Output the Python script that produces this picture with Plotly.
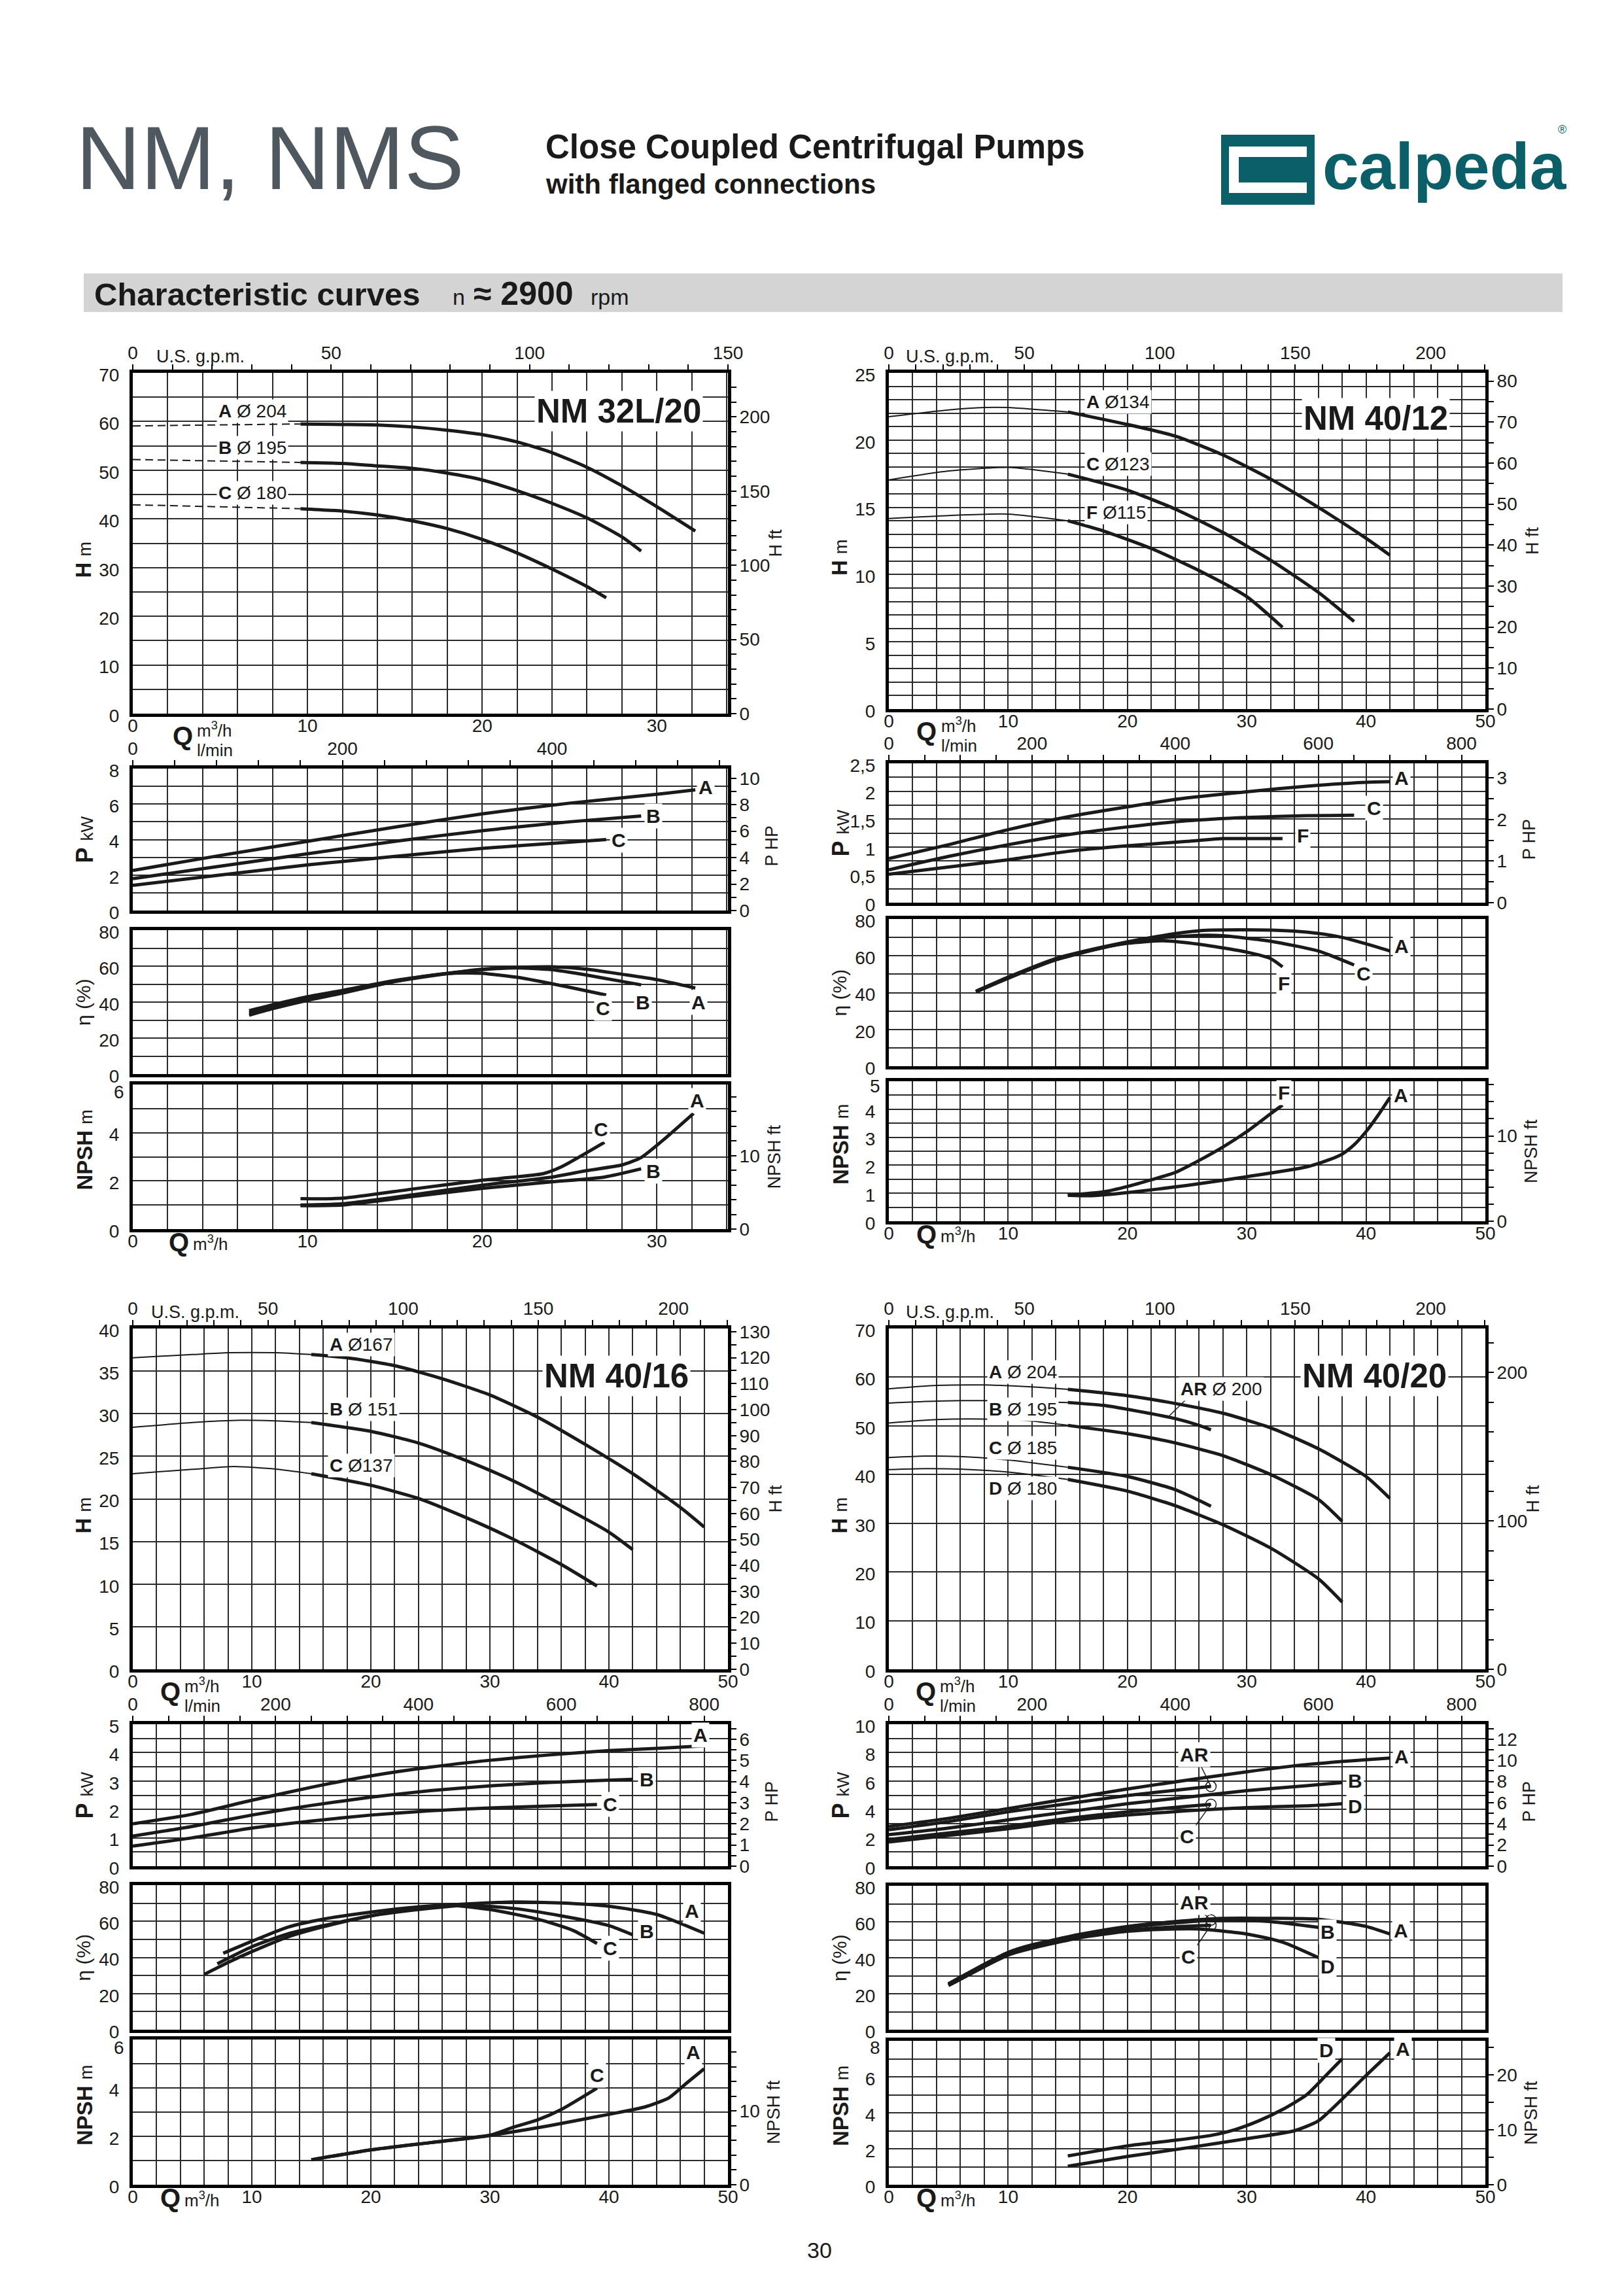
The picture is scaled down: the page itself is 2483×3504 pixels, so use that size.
import numpy as np
import plotly.graph_objects as go

W, H = 2483, 3504
FONT = "Liberation Sans, Arial, Helvetica, sans-serif"
INK = "#1a1a1a"
GRID = "#2b2b2b"
TEAL = "#0b5f68"

GPM = 4.40287          # US gpm per m3/h
LMIN = 1000.0 / 60.0   # l/min per m3/h
FT = 1 / 0.3048
HP = 1 / 0.7457

# ---------------- NM 32L/20 ----------------
n1_h_q = {"A": [0, 9.6, 12, 14, 16, 18, 20, 22, 24, 26, 28, 30, 32.2],
          "B": [0, 9.6, 12, 14, 16, 18, 20, 22, 24, 26, 28, 29.1],
          "C": [0, 9.6, 12, 14, 16, 18, 20, 22, 24, 26, 27.1]}
n1_h = {"A": [59.1, 59.5, 59.4, 59.3, 58.9, 58.2, 57.3, 55.8, 53.6, 50.6, 46.8, 42.5, 37.5],
        "B": [52.2, 51.6, 51.4, 50.9, 50.4, 49.4, 48.0, 45.8, 43.2, 40.2, 36.3, 33.4],
        "C": [42.9, 42.1, 41.6, 40.8, 39.6, 38.0, 35.8, 33.0, 29.7, 26.1, 23.8]}
n1_p_q = {"A": [0, 5, 10, 15, 20, 25, 30, 32.2],
          "B": [0, 5, 10, 15, 20, 25, 29.1],
          "C": [0, 5, 10, 15, 20, 25, 27.1]}
n1_p = {"A": [2.26, 3.1, 3.9, 4.7, 5.45, 6.05, 6.55, 6.8],
        "B": [1.8, 2.5, 3.2, 3.9, 4.5, 5.0, 5.33],
        "C": [1.42, 2.0, 2.57, 3.05, 3.5, 3.85, 4.0]}
n1_e_q = {"A": [6.66, 8, 10, 12, 15, 18, 20, 22, 24, 26, 28, 30, 32.2],
          "B": [6.66, 8, 10, 12, 15, 18, 20, 22, 24, 26, 28, 29.1],
          "C": [6.66, 8, 10, 12, 15, 16, 18, 19, 20, 22, 24, 26, 27.1]}
n1_e = {"A": [35.2, 38.5, 43, 46.5, 52, 56, 58.3, 59.3, 59.6, 58.3, 55.5, 52.5, 47.8],
        "B": [33.9, 37.3, 42, 45.8, 51.4, 55.8, 58, 59, 58, 55, 51.5, 49.6],
        "C": [32.7, 36.3, 41, 45, 51.5, 53.3, 55.8, 56.2, 56, 53.8, 50.2, 46.2, 43.9]}
n1_n_q = {"A": [9.6, 12, 16, 20, 24, 26, 28, 29.1, 30.5, 32.1],
          "B": [9.6, 12, 16, 20, 24, 27, 29.1],
          "C": [9.6, 12, 16, 20, 21, 23.5, 24.5, 27]}
n1_n = {"A": [1.0, 1.05, 1.42, 1.82, 2.16, 2.43, 2.66, 2.97, 3.78, 4.8],
        "B": [0.97, 1.0, 1.35, 1.69, 1.96, 2.16, 2.5],
        "C": [1.26, 1.28, 1.66, 2.03, 2.1, 2.3, 2.57, 3.6]}
n1_h_lab = [("A", "Ø 204", 4.8, 62.2), ("B", "Ø 195", 4.8, 54.6), ("C", "Ø 180", 4.8, 45.4)]
n1_p_lab = [("A", 32.8, 6.95), ("B", 29.8, 5.33), ("C", 27.8, 3.95)]
n1_e_lab = [("C", 26.9, 36.6), ("B", 29.2, 39.9), ("A", 32.4, 39.9)]
n1_n_lab = [("A", 32.3, 5.34), ("C", 26.8, 4.15), ("B", 29.8, 2.4)]

# ---------------- NM 40/12 ----------------
n2_h_q = {"A": [0, 5, 8, 10, 15, 20, 24, 28, 32, 36, 40, 42],
          "C": [0, 5, 10, 15, 20, 24, 28, 32, 36, 39],
          "F": [0, 5, 10, 15, 18, 22, 26, 30, 33]}
n2_h = {"A": [21.74, 22.24, 22.42, 22.42, 22.09, 21.16, 20.3, 18.9, 17.1, 15.0, 12.7, 11.44],
        "C": [17.04, 17.7, 17.97, 17.47, 16.28, 14.87, 13.13, 11.07, 8.68, 6.51],
        "F": [14.17, 14.39, 14.5, 14.0, 13.24, 11.94, 10.3, 8.36, 6.08]}
n2_p_q = {"A": [0, 5, 10, 15, 20, 25, 30, 35, 40, 42],
          "C": [0, 5, 10, 15, 20, 25, 30, 35, 39],
          "F": [0, 5, 10, 15, 20, 25, 28, 30, 33]}
n2_p = {"A": [0.79, 1.04, 1.31, 1.54, 1.72, 1.88, 1.99, 2.09, 2.16, 2.17],
        "C": [0.59, 0.83, 1.04, 1.22, 1.36, 1.47, 1.53, 1.56, 1.57],
        "F": [0.51, 0.64, 0.77, 0.92, 1.02, 1.1, 1.15, 1.15, 1.15]}
n2_e_q = {"A": [7.3, 10, 14, 18, 22, 26, 30, 34, 36, 38, 40, 42],
          "C": [7.3, 10, 14, 18, 22, 26, 28, 32, 36, 39],
          "F": [7.3, 10, 14, 18, 20, 23, 26, 30, 32, 33]}
n2_e = {"A": [40.8, 48.4, 58.5, 64.9, 70, 73.6, 74.1, 73.4, 72.2, 70, 66.5, 62.6],
        "C": [40.5, 48, 58, 64.5, 69.3, 71.1, 70.9, 67.9, 62.6, 55],
        "F": [40.3, 47.8, 57.8, 64.5, 66.8, 68.2, 66.3, 62, 58.5, 54]}
n2_n_q = {"F": [15, 18, 20, 22, 24, 26, 28, 30, 32, 33],
          "A": [15, 17, 20, 25, 30, 35, 37, 38, 39, 40, 41, 42]}
n2_n = {"F": [0.93, 1.05, 1.24, 1.48, 1.74, 2.17, 2.65, 3.2, 3.84, 4.15],
        "A": [0.93, 0.91, 1.02, 1.28, 1.59, 1.94, 2.21, 2.4, 2.73, 3.2, 3.78, 4.42]}
n2_h_lab = [("A", "Ø134", 16.4, 22.85), ("C", "Ø123", 16.4, 18.2), ("F", "Ø115", 16.4, 14.6)]
n2_p_lab = [("A", 43, 2.24), ("C", 40.7, 1.7), ("F", 34.7, 1.2)]
n2_e_lab = [("A", 43, 65.2), ("C", 39.8, 50.2), ("F", 33.1, 44.9)]
n2_n_lab = [("F", 33.1, 4.6), ("A", 42.9, 4.5)]

# ---------------- NM 40/16 ----------------
n3_h_q = {"A": [0, 5, 8, 12, 15, 18, 22, 26, 30, 34, 38, 42, 46, 48],
          "B": [0, 5, 9, 12, 15, 20, 24, 28, 32, 36, 40, 42],
          "C": [0, 5, 8.5, 12, 15, 20, 24, 28, 32, 36, 39]}
n3_h = {"A": [36.57, 36.94, 37.15, 37.15, 36.94, 36.57, 35.64, 34.1, 32.2, 29.6, 26.4, 22.96, 19.0, 16.7],
        "B": [28.4, 28.96, 29.23, 29.16, 28.96, 27.93, 26.56, 24.5, 22.1, 19.2, 16.1, 14.05],
        "C": [22.96, 23.47, 23.8, 23.5, 22.96, 21.6, 20.05, 17.8, 15.25, 12.3, 9.77]}
n3_p_q = {"A": [0, 5, 10, 15, 20, 25, 30, 35, 40, 45, 48],
          "B": [0, 5, 10, 15, 20, 25, 30, 35, 40, 42],
          "C": [0, 5, 10, 15, 20, 25, 30, 35, 39]}
n3_p = {"A": [1.49, 1.83, 2.32, 2.78, 3.18, 3.49, 3.73, 3.92, 4.07, 4.17, 4.24],
        "B": [1.06, 1.4, 1.8, 2.14, 2.43, 2.66, 2.83, 2.95, 3.03, 3.06],
        "C": [0.71, 1.0, 1.34, 1.59, 1.8, 1.95, 2.05, 2.12, 2.17]}
n3_e_q = {"A": [7.6, 10, 13, 16, 20, 24, 28, 32, 36, 40, 44, 48],
          "B": [7.1, 10, 13, 16, 20, 24, 28, 32, 36, 40, 42],
          "C": [6.0, 8, 10, 13, 16, 20, 24, 27, 30, 34, 37, 39]}
n3_e = {"A": [42.3, 48.9, 56.7, 61.2, 65.1, 68, 69.6, 70.7, 70.1, 68.3, 63.8, 53.4],
        "B": [36.5, 45.9, 53, 57.6, 63, 66.5, 68.9, 67.1, 63, 57.6, 52.5],
        "C": [30.6, 37.2, 43.2, 51.3, 57, 63, 67.4, 68.7, 66.5, 61.2, 54.9, 47.7]}
n3_n_q = {"A": [15, 20, 25, 30, 35, 40, 43, 45, 46.5, 48],
          "C": [15, 20, 25, 30, 32, 34, 36, 39]}
n3_n = {"A": [1.03, 1.44, 1.74, 2.04, 2.44, 2.91, 3.21, 3.58, 4.19, 4.79],
        "C": [1.03, 1.44, 1.74, 2.04, 2.38, 2.68, 3.11, 3.99]}
n3_h_lab = [("A", "Ø167", 16.4, 38.1), ("B", "Ø 151", 16.4, 30.5), ("C", "Ø137", 16.4, 23.9)]
n3_p_lab = [("A", 47.7, 4.63), ("B", 43.2, 3.06), ("C", 40.1, 2.18)]
n3_e_lab = [("A", 47, 65.6), ("B", 43.2, 54.5), ("C", 40.1, 45)]
n3_n_lab = [("A", 47.1, 5.46), ("C", 39, 4.52)]

# ---------------- NM 40/20 ----------------
n4_h_q = {"A": [0, 4, 8, 12, 15, 20, 24, 28, 32, 36, 40, 42],
          "AR": [0, 4, 8, 12, 15, 18, 20, 22, 24, 26, 27],
          "B": [0, 4, 8, 12, 15, 20, 24, 28, 32, 36, 38],
          "C": [0, 3, 6, 10, 15, 20, 24, 27],
          "D": [0, 3, 6, 10, 15, 20, 24, 28, 32, 36, 38]}
n4_h = {"A": [57.6, 58.3, 58.4, 58.0, 57.5, 56.2, 54.6, 52.6, 49.6, 45.3, 39.6, 35.1],
        "AR": [54.7, 55.1, 55.2, 55.0, 54.8, 54.2, 53.4, 52.5, 51.5, 50.1, 49.2],
        "B": [50.6, 51.3, 51.4, 51.0, 50.1, 48.4, 46.5, 43.9, 40.0, 34.9, 30.4],
        "C": [43.5, 43.8, 43.7, 43.0, 41.5, 39.6, 36.9, 33.5],
        "D": [41.0, 41.2, 41.1, 40.5, 39.0, 36.6, 33.6, 29.7, 24.9, 18.6, 13.8]}
n4_p_q = {"A": [0, 5, 10, 15, 20, 25, 30, 35, 40, 42],
          "AR": [0, 5, 10, 15, 20, 25, 27],
          "B": [0, 5, 10, 15, 20, 25, 30, 35, 38],
          "C": [0, 5, 10, 15, 20, 25, 27],
          "D": [0, 5, 10, 15, 20, 25, 30, 35, 38]}
n4_p = {"A": [2.8, 3.37, 4.06, 4.75, 5.44, 6.06, 6.65, 7.16, 7.5, 7.61],
        "AR": [2.57, 3.14, 3.83, 4.4, 4.98, 5.44, 5.62],
        "B": [2.22, 2.68, 3.26, 3.83, 4.4, 4.86, 5.32, 5.67, 5.89],
        "C": [1.88, 2.34, 2.8, 3.37, 3.83, 4.22, 4.36],
        "D": [1.7, 2.16, 2.64, 3.19, 3.6, 3.9, 4.13, 4.25, 4.4]}
n4_e_q = {"A": [5, 8, 10, 12, 16, 20, 24, 28, 32, 36, 40, 42],
          "AR": [5, 8, 10, 12, 16, 20, 24, 27],
          "B": [5, 8, 10, 12, 16, 20, 24, 28, 32, 36],
          "C": [5, 8, 10, 12, 16, 20, 24, 27],
          "D": [5, 8, 10, 12, 16, 20, 24, 26, 30, 33, 36]}
n4_e = {"A": [25.3, 36.1, 42.8, 46.9, 52.7, 57.2, 60.1, 61.9, 61.9, 61.4, 57.4, 53.2],
        "AR": [25.6, 36.4, 43, 47.2, 53, 57.4, 59.9, 61.0],
        "B": [25, 35.8, 42.4, 46.5, 52.3, 56.8, 59.4, 61, 60.1, 56.9],
        "C": [24.8, 35.3, 42, 45.8, 51.5, 55.4, 57.2, 58.1],
        "D": [24.5, 35, 41.5, 45.3, 51.1, 54.7, 56, 56, 53.2, 48.7, 40.1]}
n4_n_q = {"D": [15, 20, 24, 27, 29, 31, 33, 35, 36.5, 38],
          "A": [15, 20, 25, 30, 34, 36, 38, 40, 42]}
n4_n = {"D": [1.6, 2.16, 2.47, 2.74, 3.06, 3.55, 4.18, 4.99, 5.98, 7.0],
        "A": [1.03, 1.57, 2.05, 2.56, 3.0, 3.55, 4.76, 6.07, 7.33]}
n4_h_lab = [("A", "Ø 204", 8.25, 61.0), ("B", "Ø 195", 8.25, 53.4), ("C", "Ø 185", 8.25, 45.5),
            ("D", "Ø 180", 8.25, 37.2), ("AR", "Ø 200", 24.3, 57.6)]
n4_p_lab = [("A", 43, 7.73), ("B", 39.1, 6.0), ("D", 39.1, 4.22), ("AR", 25.6, 7.84), ("C", 25, 2.11)]
n4_e_lab = [("A", 42.9, 55), ("B", 36.8, 54.2), ("D", 36.8, 35.2), ("AR", 25.6, 70.9), ("C", 25.1, 40.6)]
n4_n_lab = [("D", 36.7, 7.48), ("A", 43.1, 7.55)]

# ------------------------------------------------------------------
layout = {}
traces = []
anns = []
shapes = []
count = {"x": 0, "y": 0}
TICKFONT = dict(family=FONT, size=28, color=INK)


def new_axis(letter):
    count[letter] += 1
    i = count[letter]
    suffix = "" if i == 1 else str(i)
    return f"{letter}axis{suffix}", f"{letter}{suffix}"


def num(v):
    return f"{v:g}".replace(".", ",")


def grid_ticks(vmax, step, lab):
    n = int(np.floor(vmax / step + 1e-6))
    vals = [round(i * step, 6) for i in range(n + 1)]
    text = [num(v) if abs(v / lab - round(v / lab)) < 1e-6 else "" for v in vals]
    return vals, text


def ptext(px, py, s, size, xanchor="center", angle=0, color=INK):
    anns.append(dict(x=px / W, y=1 - py / H, xref="paper", yref="paper", text=s,
                     showarrow=False, font=dict(family=FONT, size=size, color=color),
                     xanchor=xanchor, yanchor="middle", textangle=angle))


def plot_box(x0, x1, y0, y1, xmax, ymax, ystep, ylab, show_x, top_drop=None):
    xn, xr = new_axis("x")
    yn, yr = new_axis("y")
    xv, xt = grid_ticks(xmax, 2, 10)
    if not show_x:
        xt = [""] * len(xv)
    yv, yt = grid_ticks(ymax, ystep, ylab)
    if top_drop is not None:
        # top label sits a little lower so it clears the plot above
        ptext(x0 - 11, y0 + top_drop, yt[-1], 28, xanchor="right")
        yt[-1] = ""
    common = dict(showgrid=True, gridcolor=GRID, gridwidth=1.6, showline=True, mirror=True,
                  linecolor="black", linewidth=5, zeroline=False, ticks="", tickmode="array",
                  tickfont=TICKFONT, automargin=False, fixedrange=True)
    layout[xn] = dict(common, domain=[x0 / W, x1 / W], range=[0, xmax], anchor=yr,
                      tickvals=xv, ticktext=xt, ticklabelstandoff=-11)
    layout[yn] = dict(common, domain=[1 - y1 / H, 1 - y0 / H], range=[0, ymax], anchor=xr,
                      tickvals=yv, ticktext=yt, ticklabelstandoff=10, ticklabelshift=3)
    return xr, yr


def side_axis(letter, side, over, anchor, vmax, step, lab):
    n, r = new_axis(letter)
    vmax = round(vmax, 6)
    v, t = grid_ticks(vmax, step, lab)
    layout[n] = dict(overlaying=over, side=side, anchor=anchor, range=[0, vmax],
                     tickmode="array", tickvals=v, ticktext=t, ticks="outside", ticklen=12,
                     tickwidth=2, tickcolor="black", showgrid=False, showline=False,
                     zeroline=False, tickfont=TICKFONT, automargin=False, fixedrange=True,
                     ticklabelstandoff=(-1 if letter == "y" else -3))
    if letter == "y":
        traces.append(go.Scatter(x=[None], y=[None], xaxis=anchor, yaxis=r,
                                 showlegend=False, hoverinfo="skip"))
    else:
        traces.append(go.Scatter(x=[None], y=[None], xaxis=r, yaxis=anchor,
                                 showlegend=False, hoverinfo="skip"))
    return r


def curve(xr, yr, q, v, width=5, dash=None):
    traces.append(go.Scatter(x=list(q), y=list(v), xaxis=xr, yaxis=yr, mode="lines",
                             line=dict(color=INK, width=width, shape="spline", smoothing=0.6,
                                       dash=dash),
                             showlegend=False, hoverinfo="skip"))


def h_curve(xr, yr, q, v, split, dash):
    qa, va = np.array(q, float), np.array(v, float)
    lo = qa <= split + 1e-9
    hi = qa >= split - 1e-9
    curve(xr, yr, qa[lo], va[lo], width=2, dash=dash)
    curve(xr, yr, qa[hi], va[hi], width=5)


def label(xr, yr, q, v, text, size=30, xanchor="center"):
    anns.append(dict(x=q, y=v, xref=xr, yref=yr, text=text, showarrow=False,
                     font=dict(family=FONT, size=size, color=INK), bgcolor="white",
                     xanchor=xanchor, yanchor="middle", borderpad=2))


def draw_panel(s):
    x0, x1 = s["x"]
    xmax = s["xmax"]
    refs = {}

    # head
    hmax, hstep, hlab, fstep, flab = s["h_ax"]
    y0, y1 = s["h_box"]
    xr, yr = plot_box(x0, x1, y0, y1, xmax, hmax, hstep, hlab, True)
    side_axis("y", "right", yr, xr, hmax * FT, fstep, flab)
    side_axis("x", "top", xr, yr, xmax * GPM, 10, 50)
    q, v = s["h"]
    for k in q:
        h_curve(xr, yr, q[k], v[k], s["split"], s["dash"])
    for name, dia, lq, lv in s["h_lab"]:
        label(xr, yr, lq, lv, f"<b>{name}</b> {dia}", size=28, xanchor="left")
    label(xr, yr, s["title_at"][0], s["title_at"][1], f"<b>{s['title']}</b>", size=51)
    refs["h"] = (xr, yr)
    ptext(x0 + s["gpm_pad"], y0 - 25, "U.S. g.p.m.", 27, xanchor="left")
    ptext(x0 - 76, (y0 + y1) / 2 + 25, "<b>H</b> <span style='font-size:27px'>m</span>", 33, angle=-90)
    ptext(x1 + 72, (y0 + y1) / 2, "H ft", 27, angle=-90)
    qx = x0 + s["q_pad"]
    ptext(qx, y1 + 34, "<b>Q</b>", 40)
    ptext(qx + 20, y1 + 24, "m<sup>3</sup>/h", 26, xanchor="left")
    ptext(qx + 20, y1 + 56, "l/min", 26, xanchor="left")

    # power
    pmax, pstep, plab, hpstep, hplab = s["p_ax"]
    y0, y1 = s["p_box"]
    xr, yr = plot_box(x0, x1, y0, y1, xmax, pmax, pstep, plab, False)
    side_axis("y", "right", yr, xr, pmax * HP, hpstep, hplab)
    side_axis("x", "top", xr, yr, xmax * LMIN, s["lmin_step"], 200)
    q, v = s["p"]
    for k in q:
        curve(xr, yr, q[k], v[k])
    for name, lq, lv in s["p_lab"]:
        label(xr, yr, lq, lv, f"<b>{name}</b>")
    refs["p"] = (xr, yr)
    ptext(x0 - 74, (y0 + y1) / 2, "<b>P</b> <span style='font-size:26px'>kW</span>", 36, angle=-90)
    ptext(x1 + 66, (y0 + y1) / 2 + 10, "P HP", 27, angle=-90)

    # efficiency
    y0, y1 = s["e_box"]
    xr, yr = plot_box(x0, x1, y0, y1, xmax, 80, 10, 20, False)
    q, v = s["e"]
    for k in q:
        curve(xr, yr, q[k], v[k])
    for name, lq, lv in s["e_lab"]:
        label(xr, yr, lq, lv, f"<b>{name}</b>")
    refs["e"] = (xr, yr)
    ptext(x0 - 76, (y0 + y1) / 2, "η (%)", 30, angle=-90)

    # npsh
    nmax, nstep, nlab, fstep, flab = s["n_ax"]
    y0, y1 = s["n_box"]
    xr, yr = plot_box(x0, x1, y0, y1, xmax, nmax, nstep, nlab, True, top_drop=s["n_top"])
    side_axis("y", "right", yr, xr, nmax * FT, fstep, flab)
    q, v = s["n"]
    for k in q:
        curve(xr, yr, q[k], v[k])
    for name, lq, lv in s["n_lab"]:
        label(xr, yr, lq, lv, f"<b>{name}</b>")
    refs["n"] = (xr, yr)
    ptext(x0 - 74, (y0 + y1) / 2 - 10, "<b>NPSH</b> <span style='font-size:27px'>m</span>", 33, angle=-90)
    ptext(x1 + 70, (y0 + y1) / 2, "NPSH ft", 27, angle=-90)
    qx = x0 + s["q_pad_bot"]
    ptext(qx, y1 + 20, "<b>Q</b>", 40)
    ptext(qx + 20, y1 + 22, "m<sup>3</sup>/h", 26, xanchor="left")
    return refs


panels = [
    dict(title="NM 32L/20", title_at=(27.8, 62.1), x=(195, 1105),
         h_box=(562, 1083), p_box=(1167, 1384), e_box=(1414, 1634), n_box=(1650, 1871),
         xmax=150 / GPM, lmin_step=40, gpm_pad=34, q_pad=76, q_pad_bot=70, n_top=11,
         h_ax=(70, 5, 10, 10, 50), p_ax=(8, 1, 2, 1, 2), n_ax=(6, 1, 2, 2, 10),
         split=9.6, dash="12px,7px",
         h=(n1_h_q, n1_h), p=(n1_p_q, n1_p), e=(n1_e_q, n1_e), n=(n1_n_q, n1_n),
         h_lab=n1_h_lab, p_lab=n1_p_lab, e_lab=n1_e_lab, n_lab=n1_n_lab),
    dict(title="NM 40/12", title_at=(40.8, 21.6), x=(1351, 2263),
         h_box=(562, 1076), p_box=(1159, 1372), e_box=(1397, 1622), n_box=(1645, 1859),
         xmax=50, lmin_step=50, gpm_pad=24, q_pad=58, q_pad_bot=57, n_top=7,
         h_ax=(25, 1, 5, 5, 10), p_ax=(2.5, 0.25, 0.5, 0.5, 1), n_ax=(5, 0.5, 1, 2, 10),
         split=15, dash=None,
         h=(n2_h_q, n2_h), p=(n2_p_q, n2_p), e=(n2_e_q, n2_e), n=(n2_n_q, n2_n),
         h_lab=n2_h_lab, p_lab=n2_p_lab, e_lab=n2_e_lab, n_lab=n2_n_lab),
    dict(title="NM 40/16", title_at=(40.65, 34.4), x=(195, 1105),
         h_box=(2023, 2544), p_box=(2628, 2845), e_box=(2874, 3095), n_box=(3110, 3332),
         xmax=50, lmin_step=50, gpm_pad=26, q_pad=57, q_pad_bot=57, n_top=12,
         h_ax=(40, 5, 5, 5, 10), p_ax=(5, 0.5, 1, 0.5, 1), n_ax=(6, 1, 2, 2, 10),
         split=15, dash=None,
         h=(n3_h_q, n3_h), p=(n3_p_q, n3_p), e=(n3_e_q, n3_e), n=(n3_n_q, n3_n),
         h_lab=n3_h_lab, p_lab=n3_p_lab, e_lab=n3_e_lab, n_lab=n3_n_lab),
    dict(title="NM 40/20", title_at=(40.7, 60.2), x=(1351, 2263),
         h_box=(2023, 2544), p_box=(2628, 2845), e_box=(2875, 3095), n_box=(3112, 3332),
         xmax=50, lmin_step=50, gpm_pad=24, q_pad=56, q_pad_bot=57, n_top=10,
         h_ax=(70, 10, 10, 20, 100), p_ax=(10, 1, 2, 1, 2), n_ax=(8, 1, 2, 5, 10),
         split=15, dash=None,
         h=(n4_h_q, n4_h), p=(n4_p_q, n4_p), e=(n4_e_q, n4_e), n=(n4_n_q, n4_n),
         h_lab=n4_h_lab, p_lab=n4_p_lab, e_lab=n4_e_lab, n_lab=n4_n_lab),
]

all_refs = [draw_panel(s) for s in panels]

# leader lines for the AR / C curves of NM 40/20
r4 = all_refs[3]


def leader(refs, q0, v0, q1, v1, ring=True):
    xr, yr = refs
    traces.append(go.Scatter(x=[q0, q1], y=[v0, v1], xaxis=xr, yaxis=yr, mode="lines",
                             line=dict(color=INK, width=1.5), showlegend=False, hoverinfo="skip"))
    if ring:
        traces.append(go.Scatter(x=[q1], y=[v1], xaxis=xr, yaxis=yr, mode="markers",
                                 marker=dict(symbol="circle-open", size=16, color=INK,
                                             line=dict(width=1.5)),
                                 showlegend=False, hoverinfo="skip"))


ar_q = 23.4
leader(r4["h"], n4_h_lab[4][2] + 0.85, n4_h_lab[4][3] - 1.6, ar_q,
       float(np.interp(ar_q, n4_h_q["AR"], n4_h["AR"])), ring=False)
for key, refs, qd, vd, lab in [("p", r4["p"], n4_p_q, n4_p, n4_p_lab),
                               ("e", r4["e"], n4_e_q, n4_e, n4_e_lab)]:
    span = 10 if key == "p" else 80
    ar_lab = lab[3]
    c_lab = lab[4]
    leader(refs, ar_lab[1] + 0.4, ar_lab[2] - 0.05 * span, qd["AR"][-1], vd["AR"][-1])
    leader(refs, c_lab[1] + 0.5, c_lab[2] + 0.05 * span, qd["C"][-1], vd["C"][-1])

# ---------------- page header ----------------
shapes.append(dict(type="rect", xref="paper", yref="paper", x0=120 / W, x1=2381 / W,
                   y0=1 - 469 / H, y1=1 - 410 / H, fillcolor="#d4d4d4", line=dict(width=0),
                   layer="below"))
for (a, b, c, d, col) in [(1859, 2002, 198, 305, TEAL), (1871, 1990, 216, 287, "white"),
                          (1886, 1990, 232, 271, TEAL)]:
    shapes.append(dict(type="rect", xref="paper", yref="paper", x0=a / W, x1=b / W,
                       y0=1 - d / H, y1=1 - c / H, fillcolor=col, line=dict(width=0)))

ptext(106, 234, "NM, NMS", 137, xanchor="left", color="#4f585e")
ptext(824, 216, "<b>Close Coupled Centrifugal Pumps</b>", 51, xanchor="left")
ptext(824, 274, "<b>with flanged connections</b>", 42, xanchor="left")
ptext(2012, 246, "<b>calpeda</b>", 100, xanchor="left", color=TEAL)
ptext(2380, 190, "®", 18, color=TEAL)
ptext(134, 442, "<b>Characteristic curves</b>", 49, xanchor="left")
ptext(682, 446, "n", 34, xanchor="left")
ptext(714, 441, "<b>≈ 2900</b>", 50, xanchor="left")
ptext(893, 446, "rpm", 34, xanchor="left")
ptext(1245, 3432, "30", 34)

fig = go.Figure(data=traces)
fig.update_layout(width=W, height=H, margin=dict(l=0, r=0, t=0, b=0), autosize=False,
                  paper_bgcolor="white", plot_bgcolor="white", showlegend=False,
                  annotations=anns, shapes=shapes, font=dict(family=FONT, color=INK),
                  **layout)
fig.write_html("out.html", config={"displayModeBar": False})
